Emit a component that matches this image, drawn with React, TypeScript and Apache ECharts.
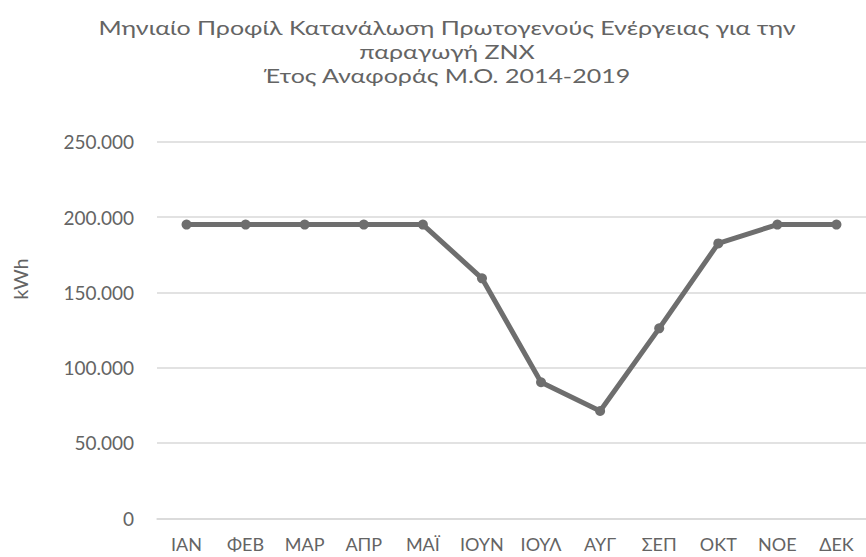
import React, { useEffect, useRef } from "react";
import * as echarts from "echarts";

const titleLines = [
  "Μηνιαίο Προφίλ Κατανάλωση Πρωτογενούς Ενέργειας για την",
  "παραγωγή ΖΝΧ",
  "Έτος Αναφοράς Μ.Ο. 2014-2019",
];
const months = ["ΙΑΝ", "ΦΕΒ", "ΜΑΡ", "ΑΠΡ", "ΜΑΪ", "ΙΟΥΝ", "ΙΟΥΛ", "ΑΥΓ", "ΣΕΠ", "ΟΚΤ", "ΝΟΕ", "ΔΕΚ"];
const consumption = [195000, 195000, 195000, 195000, 195000, 159300, 90300, 71200, 126100, 182500, 195000, 195000];
const yAxisName = "kWh";
const yMin = 0;
const yMax = 250000;
const yInterval = 50000;

const fmt = (v: number) => String(Math.round(v)).replace(/\B(?=(\d{3})+(?!\d))/g, ".");

const FONT = "Lato, 'Open Sans', sans-serif";
const TEXT = "#646464";

export default function App() {
  const ref = useRef<HTMLDivElement>(null);
  useEffect(() => {
    if (!ref.current) return;
    const chart = echarts.init(ref.current, undefined, { renderer: "svg" });
    const titleGraphics = titleLines.map((t, i) => ({
      type: "text",
      x: 447,
      y: 27 + i * 24,
      scaleX: 1.25,
      style: {
        text: t,
        fontFamily: FONT,
        fontSize: 20,
        fill: TEXT,
        align: "center",
        verticalAlign: "middle",
      },
    }));
    chart.setOption({
      animation: false,
      backgroundColor: "#ffffff",
      textStyle: { fontFamily: FONT },
      graphic: [
        ...titleGraphics,
        {
          type: "text",
          x: 19.5,
          y: 279,
          rotation: Math.PI / 2,
          style: {
            text: yAxisName,
            fontFamily: FONT,
            fontSize: 20,
            fill: TEXT,
            align: "center",
            verticalAlign: "middle",
          },
        },
      ],
      grid: { left: 157, top: 141.7, width: 718, height: 376.6, containLabel: false },
      xAxis: {
        type: "category",
        data: months,
        boundaryGap: true,
        axisLine: { show: true, lineStyle: { color: "#d9d9d9", width: 1.5 } },
        axisTick: { show: false },
        axisLabel: { color: TEXT, fontSize: 18, fontFamily: FONT, margin: 17, interval: 0 },
      },
      yAxis: {
        type: "value",
        min: yMin,
        max: yMax,
        interval: yInterval,
        axisLine: { show: false },
        axisTick: { show: false },
        splitLine: { lineStyle: { color: "#d9d9d9", width: 1.5 } },
        axisLabel: { color: TEXT, fontSize: 19, fontFamily: FONT, margin: 23, formatter: (v: number) => fmt(v) },
      },
      series: [
        {
          type: "line",
          data: consumption,
          symbol: "circle",
          symbolSize: 10,
          lineStyle: { color: "#6e6e6e", width: 5 },
          itemStyle: { color: "#6e6e6e" },
        },
      ],
    });
    return () => chart.dispose();
  }, []);
  return (
    <div
      ref={ref}
      style={{ position: "fixed", left: 0, top: 0, width: 866, height: 557, background: "#fff" }}
    />
  );
}
